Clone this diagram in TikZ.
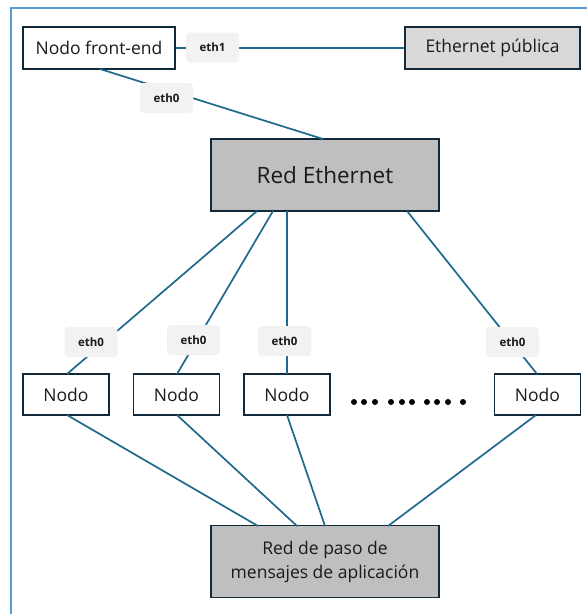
\documentclass[tikz,border=0pt]{standalone}
\usepackage{fontspec}
\setmainfont{Open Sans}
\definecolor{framec}{HTML}{5B9BD5}
\definecolor{linkc}{HTML}{1F6A8C}
\definecolor{boxedge}{HTML}{12293A}
\definecolor{grayA}{HTML}{D9D9D9}
\definecolor{grayB}{HTML}{BFBFBF}
\definecolor{labelc}{HTML}{F2F2F2}
\definecolor{textc}{HTML}{1A1A1A}
\tikzset{
  box/.style={draw=boxedge, line width=1.8pt, inner sep=0pt, text=textc, align=center},
  nodebox/.style={box, fill=white, minimum width=86pt, minimum height=41pt, font=\fontsize{17.5}{20}\selectfont},
  ethlabel/.style={fill=labelc, rounded corners=4pt, minimum width=53pt, minimum height=30pt, inner sep=0pt, font=\bfseries\fontsize{11.5}{13}\selectfont, text=textc},
  link/.style={draw=linkc, line width=1.7pt}
}
\begin{document}
\begin{tikzpicture}[x=1pt,y=-1pt]
\useasboundingbox (0,0) rectangle (587,614);
\fill[white] (0,0) rectangle (587,614);
% frame (left and top edges visible)
\draw[framec, line width=1.8pt] (11,614) -- (11,8) -- (587,8);

% nodes
\node[box, fill=white, minimum width=152pt, minimum height=42pt, font=\fontsize{17.5}{20}\selectfont] (fe) at (99,48) {Nodo front-end};
\node[box, fill=grayA, minimum width=175pt, minimum height=42pt, font=\fontsize{17.5}{20}\selectfont] (pub) at (492.5,48) {Ethernet pública};
\node[box, fill=grayB, minimum width=228pt, minimum height=72pt, font=\fontsize{22.5}{26}\selectfont] (re) at (325,175) {Red Ethernet};
\node[nodebox] (n1) at (66,394.5) {Nodo};
\node[nodebox] (n2) at (176.5,394.5) {Nodo};
\node[nodebox] (n3) at (287,394.5) {Nodo};
\node[nodebox] (n5) at (537.5,394.5) {Nodo};
\node[box, fill=grayB, minimum width=228pt, minimum height=72pt, font=\fontsize{17.5}{24}\selectfont] (msg) at (325,561.5) {Red de paso de\\mensajes de aplicación};

% coordinates on edges
\coordinate (feb) at (100,69);
\coordinate (ret) at (323,139);
\coordinate (rb1) at (257,211);
\coordinate (rb2) at (273,211);
\coordinate (rb3) at (287,211);
\coordinate (rb4) at (407,211);
\coordinate (n1t) at (67,374);
\coordinate (n2t) at (177,374);
\coordinate (n3t) at (287,374);
\coordinate (n5t) at (537,374);
\coordinate (n1b) at (67,415);
\coordinate (n2b) at (177,415);
\coordinate (n3b) at (287,415);
\coordinate (n5b) at (536,415);
\coordinate (m1) at (258,526);
\coordinate (m2) at (297,526);
\coordinate (m3) at (325,526);
\coordinate (m4) at (388,526);

% connectors
\draw[link] (fe.east) -- (pub.west);
\draw[link] (feb) -- (ret);
\draw[link] (rb1) -- (n1t);
\draw[link] (rb2) -- (n2t);
\draw[link] (rb3) -- (n3t);
\draw[link] (rb4) -- (n5t);
\draw[link] (n1b) -- (m1);
\draw[link] (n2b) -- (m2);
\draw[link] (n3b) -- (m3);
\draw[link] (n5b) -- (m4);

% labels
\node[ethlabel] (l1) at (212.5,47.5) {eth1};
\node[ethlabel] (l0) at (166.5,98) {eth0};
\node[ethlabel] (la) at (91,342) {eth0};
\node[ethlabel] (lb) at (193.5,340) {eth0};
\node[ethlabel] (lc) at (284.5,341) {eth0};
\node[ethlabel] (ld) at (512.5,342) {eth0};

% dots
\foreach \dx in {354,364,375,391,402,412,427,437,448,463}
  \fill (\dx,402) circle (3pt);
\end{tikzpicture}
\end{document}
